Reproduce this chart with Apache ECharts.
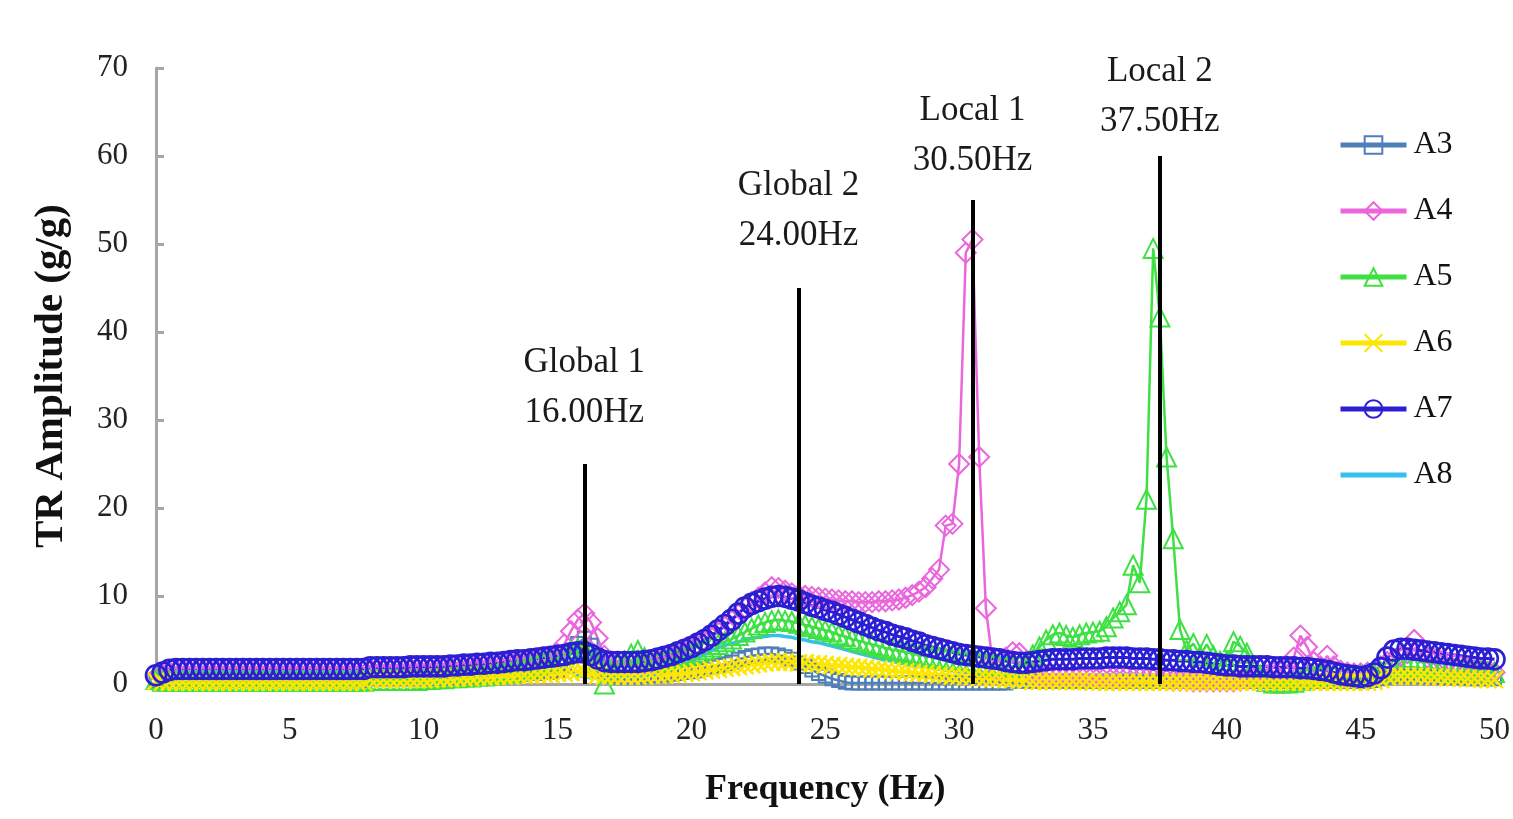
<!DOCTYPE html>
<html>
<head>
<meta charset="utf-8">
<title>TR Amplitude</title>
<script src="https://cdn.jsdelivr.net/npm/echarts@6/dist/echarts.min.js"></script>
<style>
  html, body { margin: 0; padding: 0; background: #fff; }
  #chart { width: 1513px; height: 819px; }
</style>
</head>
<body>
<div id="chart"></div>
<script>
// frequency grid, 0.25 Hz step from 0 to 50 Hz
const freq = Array.from({ length: 201 }, (_, i) => i * 0.25);

// TR amplitude (g/g), one row = 5 Hz
const a3 = [
  0.4,0.4,0.4,0.4,0.4,0.4,0.4,0.4,0.4,0.4,0.4,0.4,0.4,0.4,0.4,0.4,0.4,0.4,0.4,0.4,
  0.4,0.4,0.4,0.4,0.4,0.4,0.4,0.4,0.4,0.4,0.4,0.4,0.6,0.6,0.6,0.6,0.6,0.6,0.6,0.6,
  0.6,0.6,0.7,0.7,0.7,0.8,0.8,0.8,0.9,0.9,0.9,1.0,1.0,1.0,1.1,1.1,1.2,1.2,1.3,1.3,
  1.5,2.2,3.4,4.6,5.2,4.4,3.0,1.6,0.9,0.8,0.8,0.8,0.8,0.9,0.9,1.0,1.0,1.1,1.2,1.3,
  1.4,1.5,1.7,1.9,2.1,2.3,2.5,2.8,3.0,3.2,3.3,3.4,3.4,3.3,3.1,2.8,2.4,2.0,1.6,1.2,
  0.9,0.6,0.4,0.2,0.1,0.1,0.1,0.1,0.1,0.1,0.1,0.1,0.1,0.1,0.1,0.1,0.1,0.1,0.1,0.1,
  0.1,0.1,0.1,0.1,0.1,0.1,0.1,0.1,0.3,0.3,0.3,0.3,0.3,0.3,0.3,0.3,0.3,0.3,0.3,0.3,
  0.3,0.3,0.3,0.3,0.3,0.3,0.3,0.3,0.3,0.3,0.3,0.3,0.3,0.3,0.3,0.3,0.3,0.3,0.3,0.3,
  0.3,0.3,0.3,0.3,0.3,0.3,0.3,0.3,0.3,0.3,0.3,0.3,0.3,0.3,0.3,0.3,0.3,0.3,0.3,0.3,
  0.3,0.3,0.4,0.6,0.8,0.9,0.9,0.9,0.8,0.8,0.8,0.8,0.7,0.7,0.7,0.7,0.6,0.6,0.6,0.6,
  0.6
];
const a4 = [
  0.8,1.1,1.4,1.5,1.5,1.5,1.5,1.5,1.5,1.5,1.5,1.5,1.5,1.5,1.5,1.5,1.5,1.5,1.5,1.5,
  1.5,1.5,1.5,1.5,1.5,1.5,1.5,1.5,1.5,1.5,1.5,1.5,1.7,1.7,1.7,1.7,1.7,1.7,1.8,1.8,
  1.8,1.8,1.8,1.9,1.9,2.0,2.0,2.1,2.1,2.2,2.2,2.3,2.4,2.5,2.6,2.6,2.7,2.8,2.9,3.0,
  3.4,4.5,6.0,7.3,8.0,7.0,5.2,3.2,2.2,2.2,2.2,2.2,2.3,2.4,2.5,2.7,2.9,3.1,3.4,3.7,
  4.0,4.4,4.8,5.3,5.9,6.5,7.2,7.9,8.7,9.3,9.8,10.4,11.0,10.9,10.6,10.3,10.1,10.0,9.9,9.8,
  9.7,9.6,9.5,9.4,9.4,9.3,9.3,9.3,9.4,9.4,9.5,9.6,9.8,10.1,10.5,11.0,12.0,13.0,18.0,18.2,
  25.0,49.0,50.5,25.8,8.6,2.5,1.5,3.0,3.6,3.5,2.0,1.2,1.0,1.0,1.0,1.0,1.0,1.0,1.0,1.0,
  0.9,0.9,0.9,0.8,0.8,0.8,0.7,0.7,0.6,0.6,0.5,0.5,0.4,0.4,0.4,0.3,0.3,0.3,0.3,0.3,
  0.3,0.3,0.4,0.5,0.6,0.8,1.0,1.3,1.6,2.0,3.0,5.5,4.2,2.5,2.0,3.2,2.0,1.5,1.3,1.2,
  1.2,1.3,1.5,2.0,2.5,2.8,3.2,3.5,5.0,3.6,3.0,2.8,2.6,2.4,2.2,2.0,1.8,1.6,1.5,1.4,
  1.3
];
const a5 = [
  0.5,0.3,0.3,0.3,0.3,0.3,0.3,0.3,0.3,0.3,0.3,0.3,0.3,0.3,0.3,0.3,0.3,0.3,0.3,0.3,
  0.3,0.3,0.3,0.3,0.3,0.3,0.3,0.3,0.3,0.3,0.3,0.3,0.4,0.4,0.4,0.4,0.4,0.4,0.4,0.4,
  0.5,0.5,0.6,0.6,0.7,0.7,0.8,0.8,0.9,0.9,1.0,1.1,1.2,1.3,1.5,1.7,1.9,2.1,2.4,2.7,
  3.0,3.3,3.8,4.0,4.0,3.5,2.5,0.0,1.5,2.2,2.6,3.4,3.8,3.0,2.6,2.5,2.6,2.8,3.0,3.2,
  3.4,3.6,3.9,4.2,4.5,4.8,5.1,5.5,5.9,6.3,6.7,7.0,7.2,7.3,7.2,7.1,6.9,6.7,6.5,6.3,
  6.1,5.9,5.6,5.4,5.1,4.9,4.7,4.5,4.3,4.1,3.9,3.8,3.6,3.5,3.3,3.2,3.1,3.0,2.9,2.8,
  2.7,2.6,2.5,2.4,2.3,2.2,2.1,2.0,2.0,2.1,2.5,3.3,4.2,5.0,5.6,5.8,5.5,5.3,5.6,5.8,
  5.9,6.0,6.5,7.5,8.2,9.0,13.5,11.5,21.0,49.5,41.7,25.8,16.5,6.2,3.8,4.6,3.2,4.5,3.2,2.6,
  2.6,4.8,4.3,3.5,2.0,1.0,0.3,0.1,0.1,0.1,0.2,0.4,0.7,0.9,1.0,1.0,1.0,1.0,1.0,1.0,
  1.0,1.1,1.2,1.4,1.6,1.8,1.9,1.9,1.9,1.8,1.8,1.7,1.7,1.6,1.6,1.5,1.5,1.4,1.4,1.3,
  1.3
];
const a6 = [
  0.3,0.2,0.2,0.2,0.2,0.2,0.2,0.2,0.2,0.2,0.2,0.2,0.2,0.2,0.2,0.2,0.2,0.2,0.2,0.2,
  0.2,0.2,0.2,0.2,0.2,0.2,0.2,0.2,0.2,0.2,0.2,0.2,0.5,0.5,0.5,0.5,0.5,0.5,0.5,0.5,
  0.5,0.5,0.6,0.6,0.6,0.7,0.7,0.7,0.8,0.8,0.8,0.9,0.9,0.9,1.0,1.0,1.0,1.1,1.1,1.1,
  1.2,1.2,1.3,1.4,1.4,1.2,1.0,0.9,0.9,0.9,0.9,0.9,0.9,0.9,1.0,1.0,1.0,1.1,1.1,1.2,
  1.3,1.4,1.5,1.6,1.7,1.8,1.9,2.0,2.1,2.2,2.3,2.4,2.5,2.5,2.5,2.5,2.4,2.4,2.3,2.3,
  2.2,2.1,2.1,2.0,1.9,1.9,1.8,1.7,1.7,1.6,1.5,1.4,1.4,1.3,1.2,1.2,1.1,1.0,1.0,0.9,
  0.9,0.8,0.8,0.7,0.7,0.6,0.6,0.5,0.5,0.4,0.4,0.3,0.3,0.3,0.3,0.3,0.3,0.3,0.3,0.3,
  0.2,0.2,0.2,0.2,0.2,0.2,0.2,0.2,0.2,0.2,0.2,0.2,0.2,0.2,0.2,0.2,0.2,0.2,0.2,0.2,
  0.2,0.2,0.2,0.2,0.2,0.2,0.2,0.2,0.2,0.2,0.2,0.2,0.2,0.2,0.2,0.2,0.2,0.2,0.2,0.2,
  0.2,0.2,0.3,0.5,0.8,0.9,0.9,0.9,0.9,0.9,0.8,0.8,0.8,0.7,0.7,0.7,0.6,0.6,0.6,0.5,
  0.5
];
const a7 = [
  1.0,1.3,1.6,1.7,1.7,1.7,1.7,1.7,1.7,1.7,1.7,1.7,1.7,1.7,1.7,1.7,1.7,1.7,1.7,1.7,
  1.7,1.7,1.7,1.7,1.7,1.7,1.7,1.7,1.7,1.7,1.7,1.7,1.9,1.9,1.9,1.9,1.9,1.9,2.0,2.0,
  2.0,2.0,2.0,2.0,2.1,2.1,2.2,2.2,2.3,2.3,2.4,2.4,2.5,2.6,2.7,2.7,2.8,2.9,3.0,3.1,
  3.2,3.3,3.5,3.6,3.6,3.3,2.9,2.6,2.5,2.5,2.5,2.5,2.5,2.6,2.7,2.9,3.1,3.3,3.6,3.9,
  4.2,4.6,5.0,5.5,6.1,6.7,7.3,8.0,8.7,9.1,9.4,9.7,9.9,10.0,9.9,9.7,9.5,9.2,8.9,8.7,
  8.4,8.2,7.9,7.6,7.3,7.0,6.7,6.4,6.1,5.9,5.6,5.4,5.2,4.9,4.7,4.4,4.2,4.0,3.8,3.6,
  3.4,3.3,3.2,3.1,3.0,2.9,2.8,2.6,2.5,2.4,2.4,2.5,2.6,2.7,2.8,2.8,2.8,2.8,2.9,2.9,
  2.9,2.9,3.0,3.0,3.0,3.0,2.9,2.9,2.9,2.8,2.8,2.7,2.7,2.6,2.6,2.5,2.5,2.4,2.3,2.2,
  2.1,2.1,2.0,2.0,2.0,2.0,2.0,1.9,1.9,1.9,1.9,1.8,1.8,1.7,1.6,1.5,1.3,1.1,1.0,0.9,
  0.8,0.9,1.2,1.8,3.0,3.8,4.0,4.0,3.9,3.8,3.7,3.6,3.5,3.4,3.3,3.2,3.1,3.0,2.9,2.9,
  2.8
];
const a8 = [
  0.6,0.9,1.2,1.4,1.4,1.4,1.4,1.4,1.4,1.4,1.4,1.4,1.4,1.4,1.4,1.4,1.4,1.4,1.4,1.4,
  1.4,1.4,1.4,1.4,1.4,1.4,1.4,1.4,1.4,1.4,1.4,1.4,1.5,1.5,1.5,1.5,1.5,1.5,1.5,1.5,
  1.5,1.5,1.5,1.5,1.5,1.5,1.5,1.5,1.5,1.5,1.5,1.5,1.5,1.5,1.5,1.5,1.6,1.8,2.0,2.1,
  2.1,1.8,1.4,1.0,0.8,0.7,0.7,0.7,0.7,0.7,0.7,0.7,0.8,0.9,1.0,1.2,1.4,1.6,1.9,2.2,
  2.6,3.0,3.4,3.8,4.1,4.4,4.6,4.8,5.0,5.2,5.3,5.4,5.5,5.5,5.4,5.3,5.1,5.0,4.8,4.7,
  4.5,4.3,4.1,3.9,3.7,3.5,3.3,3.1,2.9,2.7,2.6,2.4,2.3,2.1,2.0,1.9,1.8,1.7,1.6,1.5,
  1.4,1.3,1.3,1.2,1.2,1.1,1.1,1.0,1.0,1.0,1.0,1.0,1.0,1.0,1.0,1.0,1.0,1.0,1.0,1.0,
  1.0,1.0,1.0,1.0,1.0,1.0,1.0,1.0,0.9,0.9,0.9,0.9,0.8,0.8,0.8,0.8,0.7,0.7,0.7,0.7,
  0.7,0.7,0.6,0.6,0.6,0.6,0.6,0.6,0.6,0.6,0.6,0.6,0.6,0.6,0.6,0.6,0.7,0.7,0.7,0.8,
  0.8,0.9,1.0,1.2,1.4,1.6,1.7,1.7,1.6,1.5,1.5,1.4,1.4,1.4,1.4,1.4,1.4,1.4,1.4,1.4,
  1.4
];

// mode markers
const modeNames = ["Global 1", "Global 2", "Local 1", "Local 2"];
const modeFreq = [16.0, 24.0, 30.5, 37.5];
const modeLineTop = [25, 45, 55, 60];
const modeLabelGap = [26, 27, 14, 9];

const FONT = "'Liberation Serif', 'Times New Roman', serif";

const seriesDefs = [
  { name: "A3", data: a3, color: "#4f7fb8", symbol: "rect", size: 13, width: 2.5, border: 2 },
  { name: "A4", data: a4, color: "#ea66dc", symbol: "diamond", size: 20, width: 2.5, border: 2 },
  { name: "A5", data: a5, color: "#3ee043", symbol: "triangle", size: 19, width: 2.5, border: 2 },
  { name: "A6", data: a6, color: "#fde600", symbol: "path://M0,0L10,10M10,0L0,10", size: 17, width: 2.5, border: 2.5 },
  { name: "A7", data: a7, color: "#2a1fd2", symbol: "circle", size: 20, width: 3, border: 2.6 },
  { name: "A8", data: a8, color: "#35c0ec", symbol: "circle", size: 0, width: 3.5, border: 0 }
];

const series = seriesDefs.map(function (d) {
  return {
    name: d.name,
    type: "line",
    data: freq.map(function (f, i) { return [f, d.data[i]]; }),
    symbol: d.symbol,
    showSymbol: d.size > 0,
    symbolSize: d.size,
    color: d.color,
    lineStyle: { color: d.color, width: d.width },
    itemStyle: {
      color: "rgba(255,255,255,0)",
      borderColor: d.color,
      borderWidth: d.border
    },
    emphasis: { disabled: true },
    animation: false
  };
});

// vertical black lines with their labels, hung on the last series
series[series.length - 1].markLine = {
  silent: true,
  symbol: "none",
  animation: false,
  lineStyle: { color: "#000", width: 4, type: "solid" },
  label: {
    show: true,
    position: "end",
    color: "#1a1a1a",
    fontFamily: FONT,
    fontSize: 35,
    lineHeight: 50
  },
  data: modeFreq.map(function (f, i) {
    return [
      {
        coord: [f, 0],
        label: {
          distance: modeLabelGap[i],
          formatter: modeNames[i] + "\n" + f.toFixed(2) + "Hz"
        }
      },
      { coord: [f, modeLineTop[i]] }
    ];
  })
};

const legendNames = ["A3", "A4", "A5", "A6", "A7", "A8"];

const chart = echarts.init(document.getElementById("chart"));
chart.setOption({
  backgroundColor: "#fff",
  animation: false,
  textStyle: { fontFamily: FONT },
  grid: { left: 156, right: 17, top: 68, bottom: 135 },
  legend: {
    orient: "vertical",
    left: 1333,
    top: 122,
    itemWidth: 66,
    itemHeight: 22,
    itemGap: 30,
    lineStyle: { width: 5 },
    data: legendNames.map(function (n) {
      return n === "A8" ? { name: n, itemStyle: { opacity: 0 } } : n;
    }),
    textStyle: { fontFamily: FONT, fontSize: 32, color: "#111", lineHeight: 36, padding: [0, 0, 0, 2] }
  },
  xAxis: {
    type: "value",
    min: 0,
    max: 50,
    interval: 5,
    name: "Frequency (Hz)",
    nameLocation: "middle",
    nameGap: 88,
    nameTextStyle: { fontFamily: FONT, fontSize: 36, fontWeight: "bold", color: "#111" },
    axisLine: { show: true, lineStyle: { color: "#a6a6a6", width: 3 } },
    axisTick: { show: false },
    axisLabel: { fontFamily: FONT, fontSize: 31, color: "#222", margin: 31 },
    splitLine: { show: false }
  },
  yAxis: {
    type: "value",
    min: 0,
    max: 70,
    interval: 10,
    name: "TR Amplitude (g/g)",
    nameLocation: "middle",
    nameGap: 84,
    nameTextStyle: { fontFamily: FONT, fontSize: 41, fontWeight: "bold", color: "#111" },
    axisLine: { show: true, lineStyle: { color: "#a6a6a6", width: 3 } },
    axisTick: { show: true, inside: true, length: 8, lineStyle: { color: "#a6a6a6", width: 3 } },
    axisLabel: { fontFamily: FONT, fontSize: 31, color: "#222", margin: 28 },
    splitLine: { show: false }
  },
  series: series
});
</script>
</body>
</html>
